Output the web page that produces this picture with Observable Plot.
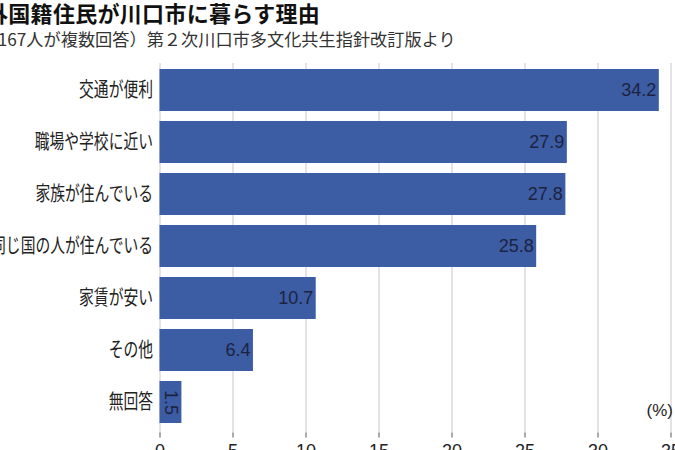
<!DOCTYPE html>
<html>
<head>
<meta charset="utf-8">
<script src="https://cdn.jsdelivr.net/npm/d3@7"></script>
<script src="https://cdn.jsdelivr.net/npm/@observablehq/plot@0.6"></script>
<style>
  html, body { margin: 0; padding: 0; background: #fff; overflow: hidden; width: 675px; height: 450px; }
  #wrap { position: relative; width: 675px; height: 450px; overflow: hidden; }
  #title { position: absolute; left: -14px; top: 1px; font-family: "Noto Sans CJK JP"; font-weight: 700; font-size: 22px; letter-spacing: 0.3px; line-height: 1; color: #111; white-space: nowrap; }
  #subtitle { position: absolute; left: -29px; top: 30px; font-family: "Noto Sans CJK JP"; font-weight: 400; font-size: 17.2px; line-height: 1; color: #333; white-space: nowrap; }
  #unit { position: absolute; right: 2px; top: 402px; font-family: "Liberation Sans"; font-size: 17px; color: #222; line-height: 1; }
  #chart { position: absolute; left: 0; top: 0; width: 700px; height: 470px; }
  #chart svg { max-width: none !important; }
</style>
</head>
<body>
<div id="wrap">
  <div id="chart"></div>
  <div id="title">外国籍住民が川口市に暮らす理由</div>
  <div id="subtitle">（1167人が複数回答）第２次川口市多文化共生指針改訂版より</div>
  <div id="unit">(%)</div>
</div>
<script>
const categories = ["交通が便利", "職場や学校に近い", "家族が住んでいる", "同じ国の人が住んでいる", "家賃が安い", "その他", "無回答"];
const values = [34.2, 27.9, 27.8, 25.8, 10.7, 6.4, 1.5];
const xTicks = [0, 5, 10, 15, 20, 25, 30, 35];

const data = categories.map((c, i) => ({category: c, value: values[i]}));
const barColor = "#3c5ca4";
const labelColor = "#1c2340";

const chart = Plot.plot({
  width: 700,
  height: 470,
  marginLeft: 159.5,
  marginRight: 29.5,
  marginTop: 63,
  marginBottom: 37.5,
  style: {fontFamily: "Liberation Sans", fontSize: "18px", background: "transparent", overflow: "visible", maxWidth: "none"},
  x: {domain: [0, 35], ticks: xTicks},
  y: {domain: categories, range: [57.9, 433.4], padding: 0.2},
  marks: [
    Plot.gridX(xTicks, {stroke: "#c8c8c8", strokeOpacity: 1, strokeWidth: 1}),
    Plot.barX(data, {x: "value", y: "category", fill: barColor}),
    Plot.text(data.filter(d => d.value >= 3), {
      x: "value", y: "category", text: d => d.value.toFixed(1),
      textAnchor: "end", dx: -3, fill: labelColor, fontSize: 18
    }),
    Plot.text(data.filter(d => d.value < 3), {
      x: d => d.value / 2, y: "category", text: d => d.value.toFixed(1),
      rotate: 90, textAnchor: "middle", fill: labelColor, fontSize: 18
    }),
    Plot.axisX({ticks: xTicks, tickSize: 5, tickPadding: 6, stroke: "#555", fill: "#222", fontSize: 18, label: null}),
    Plot.ruleY([0], {frameAnchor: "bottom", stroke: "#555"}),
    Plot.axisY({tickSize: 0, tickPadding: 7, fill: "#222", fontSize: 20, label: null})
  ]
});
document.getElementById("chart").appendChild(chart);

// horizontally condense the category labels, as in the reference
chart.querySelectorAll("g[aria-label='y-axis tick label'] text").forEach(t => {
  const tr = t.getAttribute("transform") || "";
  t.setAttribute("transform", tr + " scale(0.74,1)");
  t.style.fontFamily = "Noto Sans CJK JP";
});
</script>
</body>
</html>
